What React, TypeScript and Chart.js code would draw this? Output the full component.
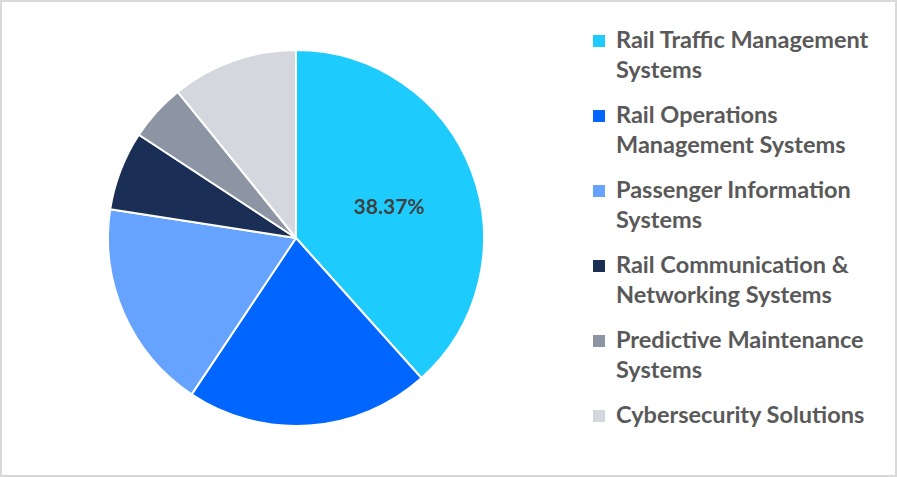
import { Chart, registerables, type ChartConfiguration, type Plugin } from "chart.js";
import { useEffect, useRef } from "react";

Chart.register(...registerables);

const segments = [
  "Rail Traffic Management Systems",
  "Rail Operations Management Systems",
  "Passenger Information Systems",
  "Rail Communication & Networking Systems",
  "Predictive Maintenance Systems",
  "Cybersecurity Solutions",
];

// legend lines as they wrap in the reference
const legendLines = [
  ["Rail Traffic Management", "Systems"],
  ["Rail Operations", "Management Systems"],
  ["Passenger Information", "Systems"],
  ["Rail Communication &", "Networking Systems"],
  ["Predictive Maintenance", "Systems"],
  ["Cybersecurity Solutions"],
];

const shares = [38.37, 21.0, 18.08, 6.8, 4.92, 10.83];

const colors = ["#1ECBFD", "#0066FF", "#66A3FF", "#1B2E55", "#8D95A5", "#D5D7DE"];

const FONT = "Lato, 'Open Sans', sans-serif";

// only the biggest slice carries its value
const sliceLabel: Plugin<"pie"> = {
  id: "sliceLabel",
  afterDatasetsDraw(chart) {
    const arc = chart.getDatasetMeta(0).data[0] as any;
    if (!arc) return;
    const { x, y, startAngle, endAngle, outerRadius } = arc.getProps(
      ["x", "y", "startAngle", "endAngle", "outerRadius"],
      true
    );
    const mid = (startAngle + endAngle) / 2;
    const r = outerRadius * 0.53;
    const ctx = chart.ctx;
    ctx.save();
    ctx.font = `bold 21px ${FONT}`;
    ctx.fillStyle = "#404040";
    ctx.textAlign = "center";
    ctx.textBaseline = "middle";
    ctx.fillText(`${shares[0].toFixed(2)}%`, x + Math.cos(mid) * r, y + Math.sin(mid) * r + 5);
    ctx.restore();
  },
};

export default function App() {
  const canvasRef = useRef<HTMLCanvasElement>(null);

  useEffect(() => {
    document.body.style.margin = "0";
    if (!canvasRef.current) return;

    const config: ChartConfiguration<"pie", number[], string> = {
      type: "pie",
      data: {
        labels: segments,
        datasets: [
          {
            data: shares,
            backgroundColor: colors,
            borderColor: "#ffffff",
            borderWidth: 2,
          },
        ],
      },
      options: {
        animation: false,
        responsive: false,
        maintainAspectRatio: false,
        layout: { padding: 49 },
        plugins: {
          legend: { display: false },
          tooltip: { enabled: false },
        },
      },
      plugins: [sliceLabel],
    };

    const chart = new Chart(canvasRef.current, config);
    return () => chart.destroy();
  }, []);

  return (
    <div
      style={{
        position: "relative",
        width: 897,
        height: 477,
        boxSizing: "border-box",
        border: "2px solid #D9D9D9",
        background: "#fff",
        fontFamily: FONT,
      }}
    >
      <canvas
        ref={canvasRef}
        width={592}
        height={476}
        style={{ position: "absolute", left: -2, top: -2, width: 592, height: 476 }}
      />
      <div style={{ position: "absolute", left: 591, top: 22 }}>
        {legendLines.map((lines, i) => (
          <div key={segments[i]} style={{ position: "relative", height: 75 }}>
            <span
              style={{
                position: "absolute",
                left: 0,
                top: 11,
                width: 12,
                height: 12,
                background: colors[i],
              }}
            />
            <div
              style={{
                position: "absolute",
                left: 23,
                top: 0,
                fontSize: 23.5,
                lineHeight: "30px",
                fontWeight: 700,
                color: "#595959",
                whiteSpace: "nowrap",
              }}
            >
              {lines.map((l) => (
                <div key={l}>{l}</div>
              ))}
            </div>
          </div>
        ))}
      </div>
    </div>
  );
}
